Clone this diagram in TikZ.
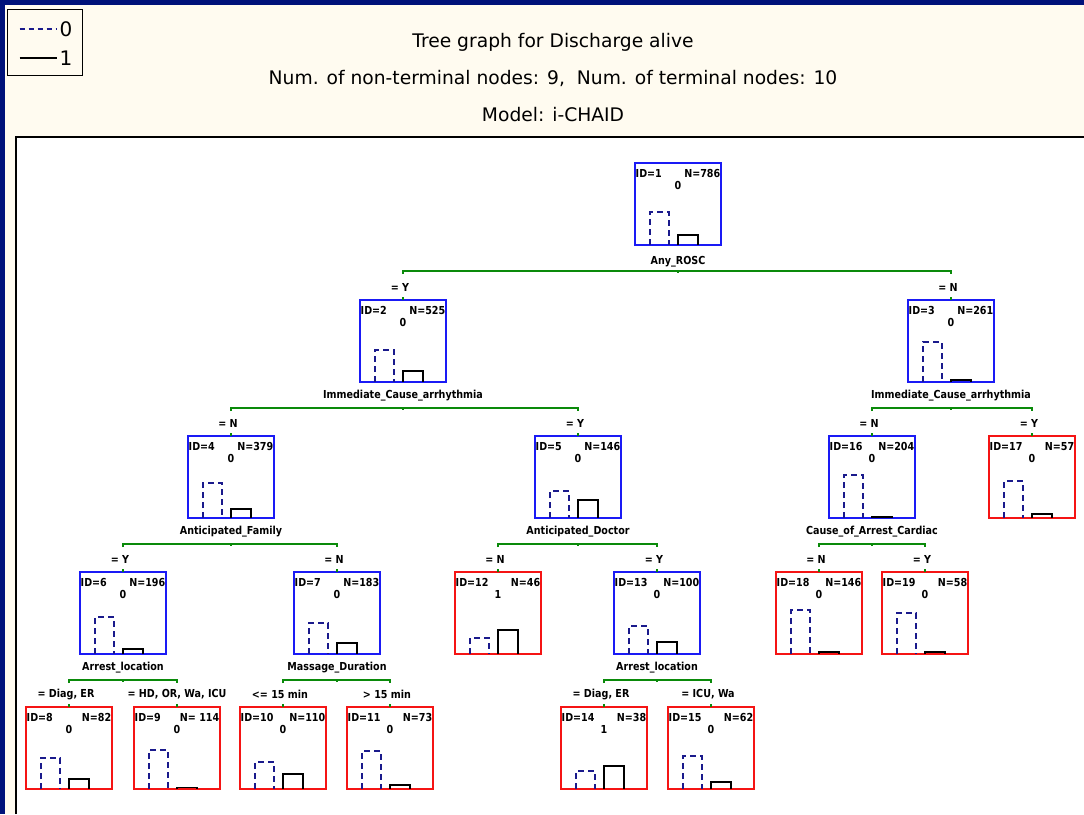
\documentclass[tikz,border=0pt]{standalone}
\usepackage{fontspec}
\setmainfont{DejaVu Sans}
\newfontfamily\treefont[FakeStretch=0.87]{DejaVu Sans}
\usetikzlibrary{positioning,calc}

\definecolor{framenavy}{HTML}{00127A}
\definecolor{cream}{HTML}{FFFBF0}
\definecolor{boxblue}{HTML}{1A1AF5}
\definecolor{boxred}{HTML}{F51414}
\definecolor{splitgreen}{HTML}{0A8A0A}
\definecolor{barnavy}{HTML}{1A1A8C}

\begin{document}
\begin{tikzpicture}[
  x=1pt, y=-1pt,
  box/.style={
    rectangle, line width=1.3pt, minimum width=86pt, minimum height=82pt,
    inner sep=0pt, outer sep=0pt
  },
  lbl/.style={font=\treefont\fontsize{11}{12}\selectfont\bfseries, inner sep=0.5pt},
  tnode/.style n args={3}{
    box,
    label={[lbl, anchor=base west, yshift=-14pt]north west:ID=#1},
    label={[lbl, anchor=base east, yshift=-14pt]north east:N=#2},
    label={[lbl, anchor=base, yshift=-26pt]north:#3}
  },
  inner/.style={draw=boxblue},
  leaf/.style={draw=boxred},
  var/.style={font=\treefont\fontsize{11}{12}\selectfont\bfseries, inner sep=1pt},
  edge/.style={font=\treefont\fontsize{11}{12}\selectfont\bfseries, inner sep=1pt},
  title/.style={font=\fontsize{18.7}{21}\selectfont},
  split/.style={splitgreen, line width=1.3pt},
  bar0/.style={barnavy, line width=1.3pt, dash pattern=on 6pt off 4pt},
  bar1/.style={black, line width=1.3pt}
]
\useasboundingbox (0,0) rectangle (1084,814);

% === Window background ===
\fill[framenavy] (0,0) rectangle (1084,814);
\fill[cream] (5,5) rectangle (1084,814);
\fill[white] (16,137) rectangle (1084,814);
\draw[line width=1.5pt] (16,814) -- (16,137) -- (1084,137);

% === Legend ===
\node[draw, line width=1pt, minimum width=75pt, minimum height=66pt, fill=cream] (legend) at (44.5,42) {};
\draw[bar0, dash pattern=on 5pt off 4pt] ($(legend.west)+(13,-13)$) -- ++(37,0) coordinate (l0);
\draw[bar1] ($(legend.west)+(13,16)$) -- ++(37,0) coordinate (l1);
\node[font=\fontsize{20}{22}\selectfont, anchor=west, inner sep=3pt] (leg0) at (l0) {0};
\node[font=\fontsize{20}{22}\selectfont, anchor=west, inner sep=3pt] (leg1) at (l1) {1};

% === Titles ===
\node[title] (t1) at (553,42) {Tree graph for Discharge alive};
\node[title] (t2) at (553,78) {Num. of non-terminal nodes: 9,~ Num. of terminal nodes: 10};
\node[title] (t3) at (553,115) {Model: i-CHAID};

% === Tree nodes ===
\node[tnode={1}{786}{0}, inner] (n1) at (678,204) {};

\node[tnode={2}{525}{0}, inner] (n2) at (403,341) {};
\node[tnode={3}{261}{0}, inner] (n3) at (951,341) {};

\node[tnode={4}{379}{0}, inner] (n4) at (231,477) {};
\node[tnode={5}{146}{0}, inner] (n5) at (578,477) {};
\node[tnode={16}{204}{0}, inner] (n16) at (872,477) {};
\node[tnode={17}{57}{0}, leaf] (n17) at (1032,477) {};

\node[tnode={6}{196}{0}, inner] (n6) at (123,613) {};
\node[tnode={7}{183}{0}, inner] (n7) at (337,613) {};
\node[tnode={12}{46}{1}, leaf] (n12) at (498,613) {};
\node[tnode={13}{100}{0}, inner] (n13) at (657,613) {};
\node[tnode={18}{146}{0}, leaf] (n18) at (819,613) {};
\node[tnode={19}{58}{0}, leaf] (n19) at (925,613) {};

\node[tnode={8}{82}{0}, leaf] (n8) at (69,748) {};
\node[tnode={9}{ 114}{0}, leaf] (n9) at (177,748) {};
\node[tnode={10}{110}{0}, leaf] (n10) at (283,748) {};
\node[tnode={11}{73}{0}, leaf] (n11) at (390,748) {};
\node[tnode={14}{38}{1}, leaf] (n14) at (604,748) {};
\node[tnode={15}{62}{0}, leaf] (n15) at (711,748) {};

% === Class bars (0 dashed, 1 solid) ===
\foreach \n/\a/\b in {n1/33/10, n2/32/11, n3/40/2, n4/35/9, n5/27/18, n16/43/1,
    n17/37/4, n6/37/5, n7/31/11, n12/16/24, n13/28/12, n18/44/2, n19/41/2,
    n8/31/10, n9/39/1.5, n10/27/15, n11/38/4, n14/18/23, n15/33/7} {
  \draw[bar0] ($(\n.south west)+(15,0)$) -- ++(0,-\a) -- ++(19,0) -- ++(0,\a);
  \draw[bar1] ($(\n.south west)+(43,0)$) -- ++(0,-\b) -- ++(20,0) -- ++(0,\b);
}

% === Split variables ===
\node[var] (v1) at ($(n1.south)+(0,17)$) {Any\_ROSC};
\node[var] (v2) at ($(n2.south)+(0,14)$) {Immediate\_Cause\_arrhythmia};
\node[var] (v3) at ($(n3.south)+(0,14)$) {Immediate\_Cause\_arrhythmia};
\node[var] (v4) at ($(n4.south)+(0,14)$) {Anticipated\_Family};
\node[var] (v5) at ($(n5.south)+(0,14)$) {Anticipated\_Doctor};
\node[var] (v16) at ($(n16.south)+(0,14)$) {Cause\_of\_Arrest\_Cardiac};
\node[var] (v6) at ($(n6.south)+(0,14)$) {Arrest\_location};
\node[var] (v7) at ($(n7.south)+(0,14)$) {Massage\_Duration};
\node[var] (v13) at ($(n13.south)+(0,14)$) {Arrest\_location};

% === Split lines ===
\foreach \p/\a/\b in {n1/n2/n3, n2/n4/n5, n3/n16/n17, n4/n6/n7, n5/n12/n13,
    n16/n18/n19, n6/n8/n9, n7/n10/n11, n13/n14/n15} {
  \coordinate (s\p) at ($(\p.south)+(0,26)$);
  \draw[split] ($(\a.north |- s\p)+(0,3)$) -- (\a.north |- s\p)
    -- (\b.north |- s\p) -- ++(0,3);
  \draw[split] (s\p) -- ++(0,2);
  \draw[split] (\a.north) -- ++(0,-3);
  \draw[split] (\b.north) -- ++(0,-3);
}

% === Branch conditions ===
\node[edge] (e2) at ($(n2.north)+(-3,-13)$) {= Y};
\node[edge] (e3) at ($(n3.north)+(-3,-13)$) {= N};
\node[edge] (e4) at ($(n4.north)+(-3,-13)$) {= N};
\node[edge] (e5) at ($(n5.north)+(-3,-13)$) {= Y};
\node[edge] (e16) at ($(n16.north)+(-3,-13)$) {= N};
\node[edge] (e17) at ($(n17.north)+(-3,-13)$) {= Y};
\node[edge] (e6) at ($(n6.north)+(-3,-13)$) {= Y};
\node[edge] (e7) at ($(n7.north)+(-3,-13)$) {= N};
\node[edge] (e12) at ($(n12.north)+(-3,-13)$) {= N};
\node[edge] (e13) at ($(n13.north)+(-3,-13)$) {= Y};
\node[edge] (e18) at ($(n18.north)+(-3,-13)$) {= N};
\node[edge] (e19) at ($(n19.north)+(-3,-13)$) {= Y};
\node[edge] (e8) at ($(n8.north)+(-3,-13)$) {= Diag, ER};
\node[edge] (e9) at ($(n9.north)+(0,-13)$) {= HD, OR, Wa, ICU};
\node[edge] (e10) at ($(n10.north)+(-3,-13)$) {<= 15 min};
\node[edge] (e11) at ($(n11.north)+(-3,-13)$) {> 15 min};
\node[edge] (e14) at ($(n14.north)+(-3,-13)$) {= Diag, ER};
\node[edge] (e15) at ($(n15.north)+(-3,-13)$) {= ICU, Wa};

\end{tikzpicture}
\end{document}
